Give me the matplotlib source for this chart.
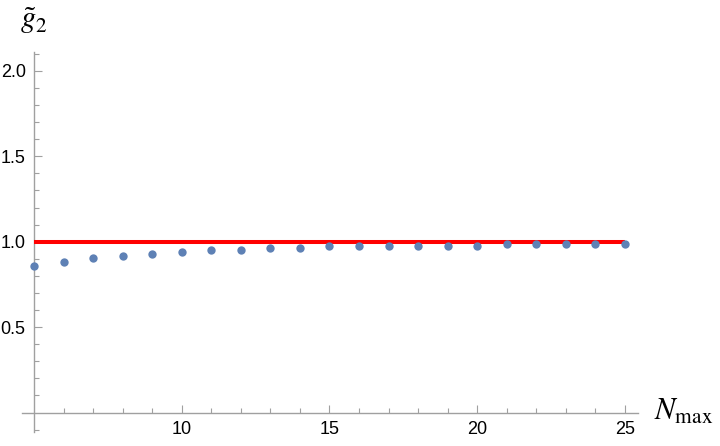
import matplotlib
matplotlib.use("Agg")
import matplotlib.pyplot as plt
from matplotlib.ticker import FixedLocator

# Data
n_max = [5, 6, 7, 8, 9, 10, 11, 12, 13, 14, 15, 16, 17, 18, 19, 20, 21, 22, 23, 24, 25]
g2 = [0.858, 0.882, 0.905, 0.917, 0.929, 0.940, 0.950, 0.950, 0.964, 0.964,
      0.975, 0.975, 0.975, 0.975, 0.975, 0.975, 0.987, 0.987, 0.987, 0.987, 0.987]
ref_x = [5, 25]
ref_y = [1.0, 1.0]
x_ticks = [10, 15, 20, 25]
y_ticks = [0.5, 1.0, 1.5, 2.0]

plt.rcParams['mathtext.fontset'] = 'stix'

fig = plt.figure(figsize=(7.2, 4.46), dpi=100)
ax = fig.add_axes([0.0308, 0.0309, 0.8557, 0.8525])

axis_col = '#a0a0a0'
ax.set_xlim(4.6, 25.45)
ax.set_ylim(-0.115, 2.11)

ax.spines['top'].set_visible(False)
ax.spines['right'].set_visible(False)
ax.spines['left'].set_position(('data', 5))
ax.spines['bottom'].set_position(('data', 0))
for s in ('left', 'bottom'):
    ax.spines[s].set_color(axis_col)
    ax.spines[s].set_linewidth(1.0)

ax.plot(ref_x, ref_y, color='#ff0000', lw=2.9, solid_capstyle='butt', zorder=3)
ax.plot(n_max, g2, 'o', color='#5e81b5', markersize=6.0, markeredgewidth=0, zorder=4,
        clip_on=False)

ax.xaxis.set_major_locator(FixedLocator(x_ticks))
ax.xaxis.set_minor_locator(FixedLocator([i for i in range(6, 25) if i % 5 != 0]))
ax.yaxis.set_major_locator(FixedLocator(y_ticks))
ax.yaxis.set_minor_locator(FixedLocator([-0.1, 0.1, 0.2, 0.3, 0.4, 0.6, 0.7, 0.8, 0.9,
                                         1.1, 1.2, 1.3, 1.4, 1.6, 1.7, 1.8, 1.9, 2.1]))
ax.set_xticklabels([str(t) for t in x_ticks])
ax.set_yticklabels([f"{t:.1f}" for t in y_ticks])

ax.tick_params(which='major', direction='in', length=5.5, width=0.8, color=axis_col,
               labelsize=13, pad=6, labelcolor='black')
ax.tick_params(which='minor', direction='in', length=3.3, width=0.8, color=axis_col)
for lab in ax.get_xticklabels() + ax.get_yticklabels():
    lab.set_fontfamily('Liberation Sans')

fig.text(34 / 720, 1 - 21 / 446, r'$\tilde{g}_2$', fontsize=22, ha='center', va='center')
fig.text(654 / 720, 1 - 411 / 446, r'$N_{\mathrm{max}}$', fontsize=22, ha='left', va='center')

fig.savefig('out.png', dpi=100)
